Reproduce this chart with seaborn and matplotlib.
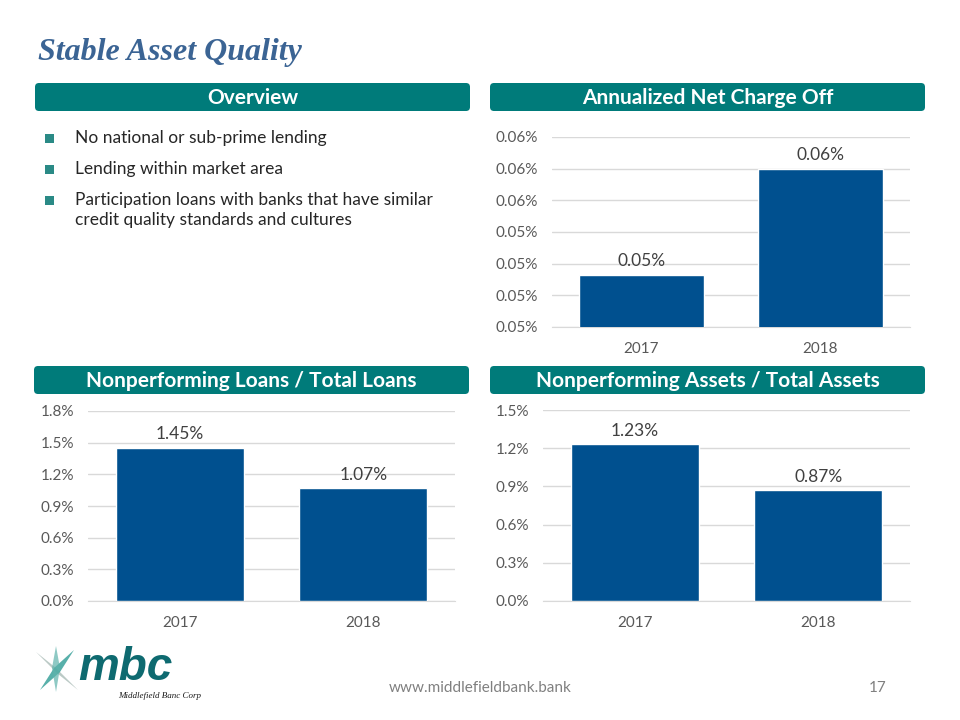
import matplotlib
matplotlib.use("Agg")
import matplotlib.pyplot as plt
import seaborn as sns
import pandas as pd
from matplotlib.patches import FancyBboxPatch, Polygon

# data
years = ["2017", "2018"]
nco_values = [0.0503, 0.0570]
nco_labels = ["0.05%", "0.06%"]
nco_ticks = [0.047, 0.049, 0.051, 0.053, 0.055, 0.057, 0.059]
nco_tick_labels = ["0.05%", "0.05%", "0.05%", "0.05%", "0.06%", "0.06%", "0.06%"]

npl_values = [1.45, 1.07]
npl_ticks = [0.0, 0.3, 0.6, 0.9, 1.2, 1.5, 1.8]

npa_values = [1.23, 0.87]
npa_ticks = [0.0, 0.3, 0.6, 0.9, 1.2, 1.5]

bullets = ["No national or sub-prime lending",
           "Lending within market area",
           "Participation loans with banks that have similar\ncredit quality standards and cultures"]

sns.set_style("white")
plt.rcParams["font.family"] = ["Lato", "DejaVu Sans"]

TEAL = "#007B7A"
BAR = "#00508F"
GRID = "#D9D9D9"
TICK = "#595959"

W, H = 960, 720
fig = plt.figure(figsize=(9.6, 7.2), dpi=100)
fig.patch.set_facecolor("white")

# background layer in pixel coordinates
bg = fig.add_axes([0, 0, 1, 1])
bg.set_xlim(0, W)
bg.set_ylim(H, 0)
bg.axis("off")

bg.text(38, 60, "Stable Asset Quality", family="Liberation Serif", style="italic",
        weight="bold", fontsize=23, color="#3B6494", va="baseline")


def header(x0, x1, y0, y1, text):
    box = FancyBboxPatch((x0, y0), x1 - x0, y1 - y0, boxstyle="round,pad=0,rounding_size=4",
                         facecolor=TEAL, edgecolor="none")
    bg.add_patch(box)
    bg.text((x0 + x1) / 2, (y0 + y1) / 2 + 1, text, color="white", weight="bold",
            fontsize=15, ha="center", va="center")


header(35, 470, 83, 111, "Overview")
header(490, 925, 83, 111, "Annualized Net Charge Off")
header(34, 469, 366, 394, "Nonperforming Loans / Total Loans")
header(490, 925, 366, 394, "Nonperforming Assets / Total Assets")

# bullets
bullet_y = [139, 170, 201]
for yy, txt in zip(bullet_y, bullets):
    bg.add_patch(plt.Rectangle((45, yy - 5), 9, 9, facecolor="#2A8A86", edgecolor="none"))
    bg.text(75, yy - 9, txt, fontsize=12.5, color="#262626", va="top", ha="left",
            linespacing=1.3)

# footer
bg.text(480, 688, "www.middlefieldbank.bank", fontsize=11, color="#808080",
        ha="center", va="center")
bg.text(878, 688, "17", fontsize=11, color="#808080", ha="center", va="center")

# logo
bg.add_patch(Polygon([(36, 652), (56, 668), (78, 690), (58, 674)], closed=True,
                     facecolor="#9FB4AE", alpha=0.7, edgecolor="none"))
bg.add_patch(Polygon([(40, 690), (54, 668), (74, 650), (60, 672)], closed=True,
                     facecolor="#2E9C95", alpha=0.8, edgecolor="none"))
bg.add_patch(Polygon([(56, 646), (60, 668), (56, 692), (52, 668)], closed=True,
                     facecolor="#5FB3AC", alpha=0.7, edgecolor="none"))
bg.text(78, 680, "mbc", family="Liberation Sans", weight="bold", style="italic",
        fontsize=33, color="#0E6A70", va="baseline")
bg.text(118, 698, "Middlefield Banc Corp", family="Liberation Serif", style="italic",
        fontsize=6.5, color="#1A1A1A", va="baseline")


def chart(left, right, top, bottom, values, labels, ticks, tick_labels, ylim):
    ax = fig.add_axes([left / W, 1 - bottom / H, (right - left) / W, (bottom - top) / H])
    df = pd.DataFrame({"year": years, "value": values})
    sns.barplot(data=df, x="year", y="value", color=BAR, width=0.7, saturation=1, ax=ax,
                zorder=3)
    ax.set_ylim(*ylim)
    ax.set_xlim(-0.5, 1.5)
    ax.set_yticks(ticks)
    ax.set_yticklabels(tick_labels)
    ax.yaxis.grid(True, color=GRID, linewidth=1, zorder=0)
    ax.set_axisbelow(True)
    for s in ax.spines.values():
        s.set_visible(False)
    ax.spines["bottom"].set_visible(True)
    ax.spines["bottom"].set_color(GRID)
    ax.tick_params(axis="both", length=0, labelsize=11, colors=TICK)
    ax.tick_params(axis="x", pad=11)
    ax.tick_params(axis="y", pad=10)
    ax.set_xlabel("")
    ax.set_ylabel("")
    ax.set_facecolor("none")
    ax.bar_label(ax.containers[0], labels=labels, padding=4, fontsize=12.5, color="#404040")
    return ax


chart(552, 910, 137, 327, nco_values, nco_labels, nco_ticks, nco_tick_labels,
      (nco_ticks[0], nco_ticks[-1]))
chart(88, 455, 411, 601, npl_values, [f"{v:.2f}%" for v in npl_values], npl_ticks,
      [f"{t:.1f}%" for t in npl_ticks], (npl_ticks[0], npl_ticks[-1]))
chart(543, 910, 410, 601, npa_values, [f"{v:.2f}%" for v in npa_values], npa_ticks,
      [f"{t:.1f}%" for t in npa_ticks], (npa_ticks[0], npa_ticks[-1]))

fig.savefig("out.png", dpi=100, facecolor="white")
